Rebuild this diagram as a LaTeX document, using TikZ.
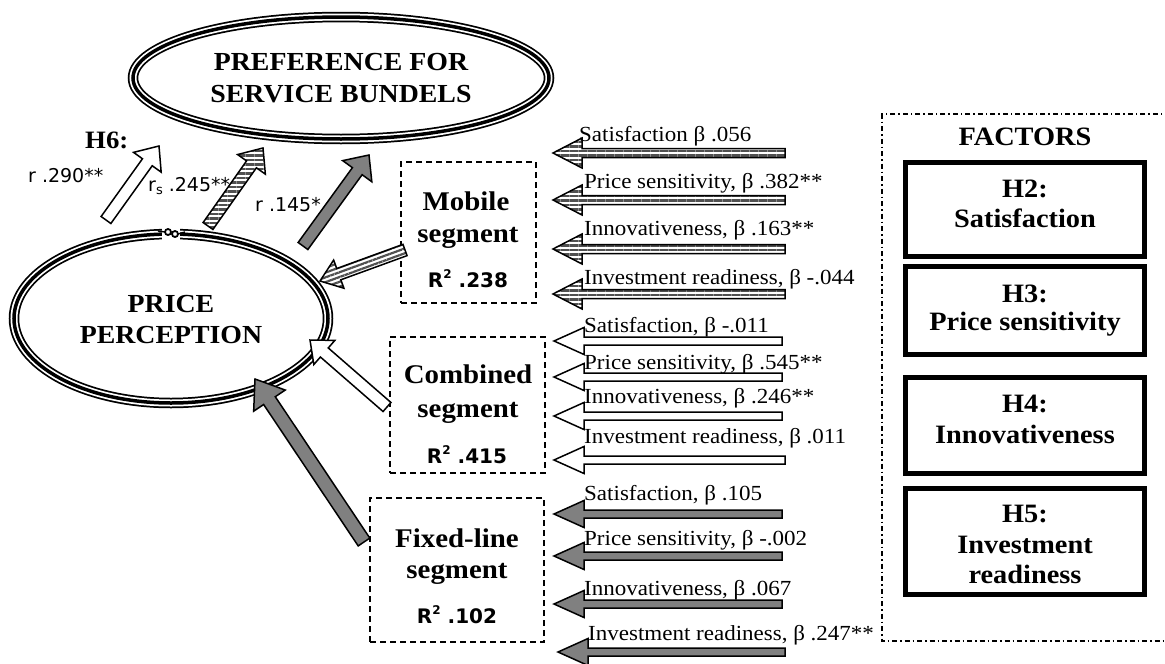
\documentclass[tikz,border=0pt]{standalone}
\usepackage{fontspec}
\setmainfont{Liberation Serif}[FakeStretch=1.07]
\newfontfamily\numsans{DejaVu Sans}
\usetikzlibrary{calc,patterns.meta}

\definecolor{arrowgray}{RGB}{128,128,128}
\definecolor{stripegray}{RGB}{80,80,80}

% block arrow: [style]{tail}{tip}{half shaft width}{half head width}{head length}
\newcommand\blockarrow[6][]{%
  \coordinate (ba-h) at ($(#3)!#6!(#2)$);
  \path[#1] ($(#2)!#4!-90:(#3)$) -- ($(ba-h)!#4!-90:(#3)$) -- ($(ba-h)!#5!-90:(#3)$)
    -- (#3) -- ($(ba-h)!#5!90:(#3)$) -- ($(ba-h)!#4!90:(#3)$) -- ($(#2)!#4!90:(#3)$) -- cycle;
}
% ellipse outlined by a thin-thick-thin triple line
\newcommand\tripleellipse[3]{%
  \draw[line width=10.5pt] (#1) ellipse [x radius=#2, y radius=#3];
  \draw[white, line width=7pt] (#1) ellipse [x radius=#2, y radius=#3];
  \draw[line width=3.5pt] (#1) ellipse [x radius=#2, y radius=#3];
}

\begin{document}
\begin{tikzpicture}[x=1pt,y=-1pt,
  every node/.style={inner sep=0pt},
  bigtitle/.style={align=center, font=\bfseries\fontsize{26}{31.5}\selectfont},
  lbl/.style={anchor=base west, font=\fontsize{21.5}{24}\selectfont},
  seglbl/.style={anchor=base, font=\bfseries\fontsize{27}{30}\selectfont},
  rsq/.style={anchor=base, font=\numsans\bfseries\fontsize{20}{22}\selectfont},
  rlbl/.style={anchor=base west, font=\numsans\fontsize{19}{21}\selectfont},
  factlbl/.style={anchor=base, font=\bfseries\fontsize{26.5}{30}\selectfont},
  segbox/.style={draw, line width=1.6pt, dash pattern=on 6pt off 4pt},
  factorbox/.style={draw, line width=5pt},
  whitearrow/.style={draw, line width=1.5pt, fill=white, line join=miter},
  grayarrow/.style={draw, line width=1.5pt, fill=arrowgray, line join=miter},
  striparrow/.style={draw, line width=1.5pt, line join=miter, preaction={fill=white},
    pattern={Lines[angle=0,distance=4.5pt,line width=2.2pt]}, pattern color=stripegray},
  striparrowslant/.style={striparrow,
    pattern={Lines[angle=20,distance=4.5pt,line width=2.2pt]}},
]
\useasboundingbox (0,0) rectangle (1165,664);

% ---------- outcome and mediator ellipses ----------
\node[bigtitle] (pref) at (341,78) {PREFERENCE FOR\\SERVICE BUNDELS};
\tripleellipse{pref.center}{208}{61}
\node[bigtitle] (price) at (171,319.5) {PRICE\\PERCEPTION};
\tripleellipse{171,318.5}{157}{84.5}
% small knot in the outline
\fill[white] (162,226) rectangle (180,241);
\draw[line width=1.8pt] (168,232) circle [radius=3];
\draw[line width=1.8pt] (175,234) circle [radius=3];
\draw[line width=1.4pt] (158,231) -- (165,232);
\draw[line width=1.4pt] (178,234) -- (185,232);

% ---------- H6 correlations ----------
\node[anchor=base west, font=\bfseries\fontsize{25}{28}\selectfont] (h6) at (85,148) {H6:};
\node[rlbl] (r1) at (28,182) {r .290**};
\node[rlbl] (r2) at (148,191) {r\raisebox{-3pt}{\fontsize{13}{13}\selectfont s} .245**};
\node[rlbl] (r3) at (255,211) {r .145*};

\coordinate (c1a) at (106,220); \coordinate (c1b) at (159,146);
\coordinate (c2a) at (208,226); \coordinate (c2b) at (263,148);
\coordinate (c3a) at (303,246); \coordinate (c3b) at (369,155);
\blockarrow[whitearrow]{c1a}{c1b}{6pt}{17pt}{20pt}
\blockarrow[striparrow]{c2a}{c2b}{6pt}{17pt}{20pt}
\blockarrow[grayarrow]{c3a}{c3b}{6pt}{18pt}{20pt}

% ---------- segment boxes ----------
\node[segbox, minimum width=135, minimum height=141] (mob) at (468.5,232.5) {};
\node[seglbl] (mob1) at (466,210) {Mobile};
\node[seglbl] (mob2) at (468,242) {segment};
\node[rsq] (mob3) at (468,287) {R\raisebox{0.42em}{\fontsize{12}{12}\selectfont 2}\ .238};

\node[segbox, minimum width=155, minimum height=136] (comb) at (467.5,405) {};
\node[seglbl] (comb1) at (468,383) {Combined};
\node[seglbl] (comb2) at (468,417) {segment};
\node[rsq] (comb3) at (467,463) {R\raisebox{0.42em}{\fontsize{12}{12}\selectfont 2}\ .415};

\node[segbox, minimum width=174, minimum height=144] (fix) at (457,570) {};
\node[seglbl] (fix1) at (457,547) {Fixed-line};
\node[seglbl] (fix2) at (457,578) {segment};
\node[rsq] (fix3) at (457,623) {R\raisebox{0.42em}{\fontsize{12}{12}\selectfont 2}\ .102};

% ---------- segment effects on price perception ----------
\coordinate (sm) at (405,250); \coordinate (pm) at (320,281);
\coordinate (sc) at (387,407); \coordinate (pc) at (310,340);
\coordinate (sf) at (364,542); \coordinate (pf) at (255,379);
\blockarrow[striparrowslant]{sm}{pm}{6pt}{15pt}{20pt}
\blockarrow[whitearrow]{sc}{pc}{6pt}{16pt}{19pt}
\blockarrow[grayarrow]{sf}{pf}{7pt}{19pt}{26pt}

% ---------- factor effects per segment ----------
\foreach \y/\tx [count=\i] in {153/785,200/785,249/785,294/785} {
  \coordinate (mt\i) at (\tx,\y); \coordinate (mh\i) at (553,\y);
  \blockarrow[striparrow]{mt\i}{mh\i}{4.5pt}{15pt}{29pt}
}
\foreach \y/\tx [count=\i] in {341/782,377/782,416/782,460/785} {
  \coordinate (ct\i) at (\tx,\y); \coordinate (ch\i) at (554,\y);
  \blockarrow[whitearrow]{ct\i}{ch\i}{4pt}{13.5pt}{30pt}
}
\foreach \y/\tx/\hx [count=\i] in {514/782/554,556/782/554,604/782/554,652/785/558} {
  \coordinate (ft\i) at (\tx,\y); \coordinate (fh\i) at (\hx,\y);
  \blockarrow[grayarrow]{ft\i}{fh\i}{4pt}{13.5pt}{30pt}
}

\node[lbl] (ml1) at (579,141) {Satisfaction β .056};
\node[lbl] (ml2) at (584,188) {Price sensitivity, β .382**};
\node[lbl] (ml3) at (584,235) {Innovativeness, β .163**};
\node[lbl] (ml4) at (584,284) {Investment readiness, β -.044};

\node[lbl] (cl1) at (584,332) {Satisfaction, β -.011};
\node[lbl] (cl2) at (584,369) {Price sensitivity, β .545**};
\node[lbl] (cl3) at (584,403) {Innovativeness, β .246**};
\node[lbl] (cl4) at (584,443) {Investment readiness, β .011};

\node[lbl] (fl1) at (584,500) {Satisfaction, β .105};
\node[lbl] (fl2) at (584,545) {Price sensitivity, β -.002};
\node[lbl] (fl3) at (584,595) {Innovativeness, β .067};
\node[lbl] (fl4) at (588,640) {Investment readiness, β .247**};

% ---------- factors panel ----------
\draw[line width=1.6pt, dash pattern=on 5pt off 3pt on 1.5pt off 3pt]
  (1170,114) -- (882,114) -- (882,641) -- (1170,641);
\node[factlbl] (facts) at (1025,145) {FACTORS};

\node[factorbox, minimum width=239, minimum height=94] (h2) at (1025,209.5) {};
\node[factlbl] (h2a) at (1025,197) {H2:};
\node[factlbl] (h2b) at (1025,227) {Satisfaction};

\node[factorbox, minimum width=239, minimum height=88] (h3) at (1025,310.5) {};
\node[factlbl] (h3a) at (1025,302) {H3:};
\node[factlbl] (h3b) at (1025,330) {Price sensitivity};

\node[factorbox, minimum width=239, minimum height=96] (h4) at (1025,425.5) {};
\node[factlbl] (h4a) at (1025,412) {H4:};
\node[factlbl] (h4b) at (1025,443) {Innovativeness};

\node[factorbox, minimum width=239, minimum height=106] (h5) at (1025,541.5) {};
\node[factlbl] (h5a) at (1025,522) {H5:};
\node[factlbl] (h5b) at (1025,553) {Investment};
\node[factlbl] (h5c) at (1025,583) {readiness};
\end{tikzpicture}
\end{document}
